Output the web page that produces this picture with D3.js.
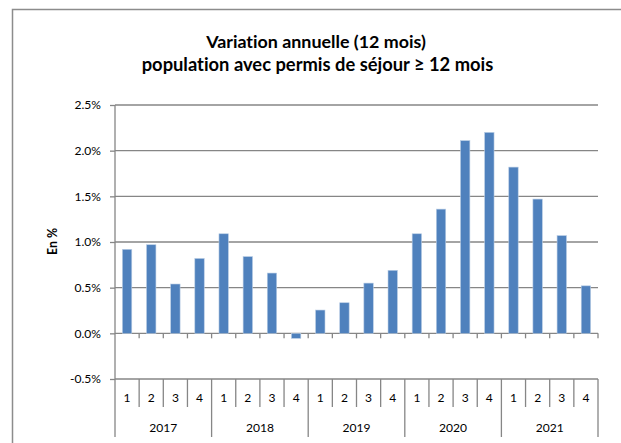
<!DOCTYPE html>
<html><head><meta charset="utf-8">
<script src="https://cdn.jsdelivr.net/npm/d3@7"></script>
<style>body{margin:0;background:#fff;}svg{display:block;font-family:Lato,"Liberation Sans",sans-serif;font-variant-ligatures:none;}</style>
</head><body>
<svg id="c" width="621" height="443"></svg>
<script>
const years = ["2017","2018","2019","2020","2021"];
const quarters = ["1","2","3","4"];
const values = [0.92,0.97,0.54,0.82, 1.09,0.84,0.66,-0.055, 0.255,0.335,0.55,0.69, 1.09,1.36,2.11,2.20, 1.82,1.47,1.07,0.52];
const yTicks = [-0.5,0,0.5,1.0,1.5,2.0,2.5];
const titleLines = ["Variation annuelle (12 mois)","population avec permis de séjour ≥ 12 mois"];
const yLabel = "En %";

const svg = d3.select("#c");
const cats = [];
years.forEach(y => quarters.forEach(q => cats.push(y+"-"+q)));
const L=115, R=598, T=105, B=379;
const x = d3.scaleBand().domain(cats).range([L,R]).paddingInner(0.61).paddingOuter(0.305);
const xb = d3.scaleBand().domain(cats).range([L,R]);
const y = d3.scaleLinear().domain([-0.5,2.5]).range([B,T]);
const grid="#868686";

function fit(sel, target){
  const w = sel.node().getComputedTextLength();
  const f = parseFloat(sel.attr("font-size"));
  const nf = f*target/w;
  sel.attr("font-size", nf);
  return nf;
}

// measure a size for tick labels: "2017" should be ~28px wide
const probe = svg.append("text").attr("font-size",12).text(years[0]);
const fs = fit(probe,28);
probe.remove();

// outer frame
svg.append("path").attr("d","M12.5,443 V9.5 H621").attr("fill","none").attr("stroke","#8c8c8c").attr("stroke-width",1.5);

// title
const t1 = svg.append("text").attr("x",316).attr("y",47.5).attr("text-anchor","middle").attr("font-size",16).attr("font-weight","bold").text(titleLines[0]);
const t2 = svg.append("text").attr("x",317.5).attr("y",71).attr("text-anchor","middle").attr("font-size",16).attr("font-weight","bold").text(titleLines[1]);
fit(t1,220); fit(t2,352);

// gridlines
svg.append("g").selectAll("line").data(yTicks.filter(d=>d!==-0.5)).join("line")
  .attr("x1",L).attr("x2",R).attr("y1",d=>y(d)).attr("y2",d=>y(d))
  .attr("stroke",grid).attr("stroke-width",1.3);

// y axis
const ya = svg.append("g").attr("transform",`translate(${L},0)`)
  .call(d3.axisLeft(y).tickValues(yTicks).tickFormat(d=>d.toFixed(1)+"%").tickSize(5).tickPadding(9));
ya.select(".domain").remove();
ya.selectAll(".tick line").attr("stroke",grid).attr("stroke-width",1.3);
ya.selectAll(".tick text").attr("font-size",fs).attr("fill","#000").attr("font-family","Lato,sans-serif");
svg.append("line").attr("x1",L).attr("x2",L).attr("y1",T).attr("y2",437).attr("stroke",grid).attr("stroke-width",1.3);

// y label
const yl = svg.append("text").attr("transform",`translate(57,241.5) rotate(-90)`).attr("text-anchor","middle")
  .attr("font-size",12).attr("font-weight","bold").text(yLabel);
fit(yl,27);

// bars
svg.append("g").selectAll("rect").data(values).join("rect")
  .attr("x",(d,i)=>x(cats[i])).attr("width",x.bandwidth())
  .attr("y",d=>y(Math.max(0,d))).attr("height",d=>Math.abs(y(d)-y(0)))
  .attr("fill","#4f81bd").attr("stroke","#b9cde5").attr("stroke-width",0.6);

// zero axis ticks
svg.append("g").selectAll("line").data(cats).join("line")
  .attr("x1",d=>xb(d)+xb.bandwidth()).attr("x2",d=>xb(d)+xb.bandwidth())
  .attr("y1",y(0)).attr("y2",y(0)+5).attr("stroke",grid).attr("stroke-width",1.3);

// bottom axis line
svg.append("line").attr("x1",L).attr("x2",R).attr("y1",B).attr("y2",B).attr("stroke",grid).attr("stroke-width",1.3);

// category boxes
svg.append("g").selectAll("line").data(cats).join("line")
  .attr("x1",d=>xb(d)+xb.bandwidth()).attr("x2",d=>xb(d)+xb.bandwidth())
  .attr("y1",B).attr("y2",(d,i)=>(i%4===3)?437:407).attr("stroke",grid).attr("stroke-width",1.3);
svg.append("g").selectAll("text").data(cats).join("text")
  .attr("x",d=>xb(d)+xb.bandwidth()/2).attr("y",401.5).attr("text-anchor","middle")
  .attr("font-size",fs).text(d=>d.split("-")[1]);
svg.append("g").selectAll("text").data(years).join("text")
  .attr("x",d=>(xb(d+"-1")+xb(d+"-4")+xb.bandwidth())/2).attr("y",431.5).attr("text-anchor","middle")
  .attr("font-size",fs).text(d=>d);
</script>
</body></html>
